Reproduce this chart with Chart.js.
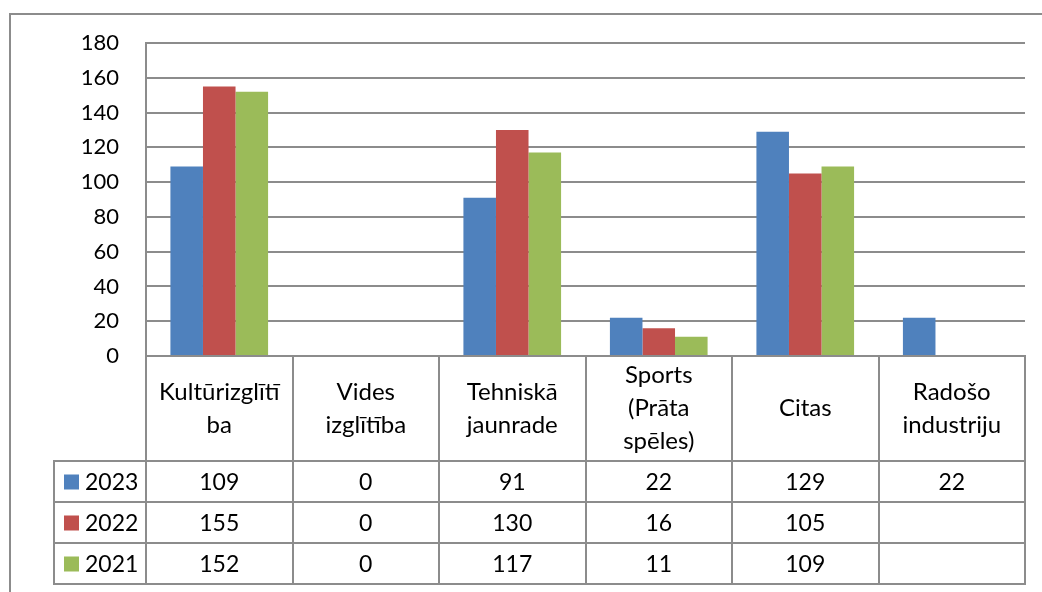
<!DOCTYPE html>
<html>
<head>
<meta charset="utf-8">
<script src="https://cdn.jsdelivr.net/npm/chart.js@4"></script>
<style>
  html, body { margin: 0; padding: 0; background: #fff; }
  #wrap { width: 1042px; height: 592px; }
</style>
</head>
<body>
<div id="wrap"><canvas id="chart"></canvas></div>
<script>
"use strict";
const FONT = "Lato";
const LINE_GRAY = "#8c8c8c";

const categories = [
  ["Kultūrizglītī", "ba"],
  ["Vides", "izglītība"],
  ["Tehniskā", "jaunrade"],
  ["Sports", "(Prāta", "spēles)"],
  ["Citas"],
  ["Radošo", "industriju"],
];
const seriesNames = ["2023", "2022", "2021"];
const values2023 = [109, 0, 91, 22, 129, 22];
const values2022 = [155, 0, 130, 16, 105, null];
const values2021 = [152, 0, 117, 11, 109, null];
const colors = ["#4F81BD", "#C0504D", "#9BBB59"];

// outer frame (left + top edge only, the rest is cropped)
const framePlugin = {
  id: "frame",
  beforeDraw(chart) {
    const ctx = chart.ctx;
    ctx.save();
    ctx.strokeStyle = LINE_GRAY;
    ctx.lineWidth = 2;
    ctx.beginPath();
    ctx.moveTo(10, 592);
    ctx.lineTo(10, 14);
    ctx.lineTo(1042, 14);
    ctx.stroke();
    ctx.restore();
  },
};

// data table under the plot, aligned with the category scale
const tablePlugin = {
  id: "dataTable",
  afterDraw(chart) {
    const ctx = chart.ctx;
    const x = chart.scales.x;
    const area = chart.chartArea;
    const n = categories.length;
    const colW = (x.right - x.left) / n;
    const top = Math.round(area.bottom);
    const headH = 105;
    const rowH = 41;
    const legLeft = 54;
    const rowsTop = top + headH;
    const bottom = rowsTop + rowH * seriesNames.length;

    ctx.save();
    ctx.strokeStyle = LINE_GRAY;
    ctx.lineWidth = 2;
    ctx.beginPath();
    ctx.moveTo(x.left - 1, top);
    ctx.lineTo(x.right + 1, top);
    for (let r = 0; r <= seriesNames.length; r++) {
      const y = rowsTop + r * rowH;
      ctx.moveTo(legLeft - 1, y);
      ctx.lineTo(x.right + 1, y);
    }
    for (let i = 0; i <= n; i++) {
      const cx = Math.round(x.left + i * colW);
      ctx.moveTo(cx, top);
      ctx.lineTo(cx, bottom);
    }
    ctx.moveTo(legLeft, rowsTop);
    ctx.lineTo(legLeft, bottom);
    ctx.stroke();

    ctx.fillStyle = "#000";
    ctx.font = "24px " + FONT;
    ctx.textAlign = "center";
    ctx.textBaseline = "middle";
    const lh = 33;
    categories.forEach((lines, i) => {
      const cx = x.getPixelForValue(i);
      const midY = top + headH / 2;
      lines.forEach((t, k) => {
        ctx.fillText(t, cx, midY + (k - (lines.length - 1) / 2) * lh);
      });
    });

    ctx.font = "23px " + FONT;
    chart.data.datasets.forEach((ds, r) => {
      const cy = rowsTop + r * rowH + rowH / 2 + 1;
      ds.data.forEach((v, i) => {
        if (v === null) return;
        ctx.textAlign = "center";
        ctx.fillText(String(v), x.getPixelForValue(i), cy);
      });
      ctx.fillStyle = colors[r];
      ctx.fillRect(64, cy - 8, 15, 15);
      ctx.fillStyle = "#000";
      ctx.textAlign = "left";
      ctx.fillText(ds.label, 85, cy);
    });
    ctx.restore();
  },
};

new Chart(document.getElementById("chart"), {
  type: "bar",
  data: {
    labels: categories,
    datasets: [
      { label: seriesNames[0], data: values2023, backgroundColor: colors[0] },
      { label: seriesNames[1], data: values2022, backgroundColor: colors[1] },
      { label: seriesNames[2], data: values2021, backgroundColor: colors[2] },
    ],
  },
  options: {
    responsive: true,
    maintainAspectRatio: false,
    animation: false,
    events: [],
    layout: { padding: { left: 0, top: 43, right: 17, bottom: 236 } },
    datasets: {
      bar: { categoryPercentage: 3 / 4.5, barPercentage: 1 },
    },
    plugins: {
      legend: { display: false },
      tooltip: { enabled: false },
    },
    scales: {
      x: { display: false },
      y: {
        min: 0,
        max: 180,
        ticks: {
          stepSize: 20,
          padding: 27,
          color: "#000",
          font: { family: FONT, size: 22 },
        },
        grid: { color: LINE_GRAY, lineWidth: 2, drawTicks: false },
        border: { display: true, color: LINE_GRAY, width: 2 },
        afterFit(scale) {
          scale.width = 146;
        },
      },
    },
  },
  plugins: [framePlugin, tablePlugin],
});
</script>
</body>
</html>
